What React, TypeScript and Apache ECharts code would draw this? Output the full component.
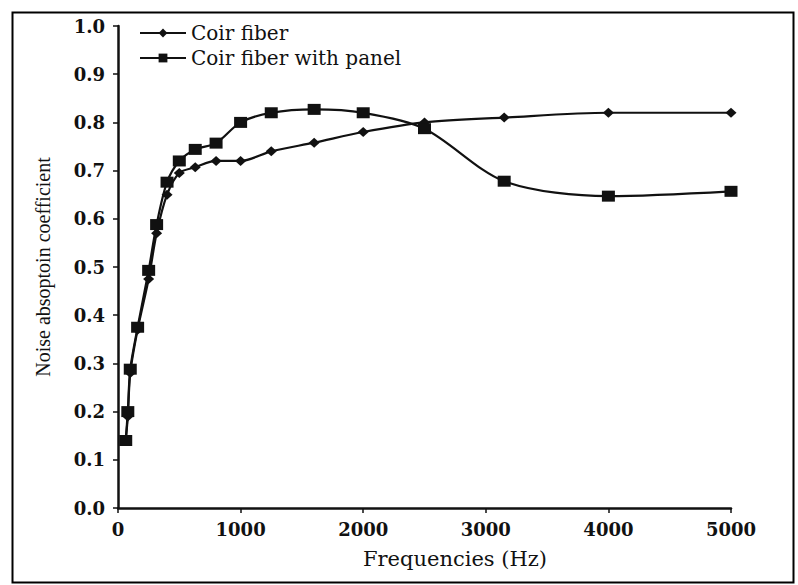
import React, { useEffect, useRef } from "react";
import * as echarts from "echarts";

const frequencies = [63, 80, 100, 160, 250, 315, 400, 500, 630, 800, 1000, 1250, 1600, 2000, 2500, 3150, 4000, 5000];
const coirFiber = [0.14, 0.19, 0.28, 0.37, 0.475, 0.57, 0.65, 0.695, 0.707, 0.72, 0.72, 0.74, 0.758, 0.78, 0.8, 0.81, 0.82, 0.82];
const coirFiberPanel = [0.14, 0.2, 0.288, 0.375, 0.493, 0.588, 0.676, 0.72, 0.744, 0.757, 0.8, 0.82, 0.827, 0.82, 0.787, 0.678, 0.647, 0.657];
const seriesNames = ["Coir fiber", "Coir fiber with panel"];
const xTitle = "Frequencies (Hz)";
const yTitle = "Noise absoptoin coefficient";

export default function App() {
  const ref = useRef<HTMLDivElement>(null);
  useEffect(() => {
    if (!ref.current) return;
    const chart = echarts.init(ref.current, null, { renderer: "svg" });
    const toPairs = (ys: number[]) => frequencies.map((f, i) => [f, ys[i]]);
    chart.setOption({
      animation: false,
      backgroundColor: "#ffffff",
      grid: { left: 118, right: 67, top: 26, bottom: 77 },
      legend: {
        orient: "vertical",
        left: 139,
        top: 23,
        padding: 0,
        itemGap: 5,
        itemWidth: 46,
        itemHeight: 11,
        textStyle: { fontFamily: "DejaVu Serif", fontSize: 20, color: "#111", lineHeight: 20 },
        data: seriesNames,
      },
      graphic: [
        {
          type: "rect",
          shape: { x: 12.5, y: 12.5, width: 781, height: 570 },
          style: { fill: "none", stroke: "#000", lineWidth: 2 },
          silent: true,
        },
        {
          type: "text",
          x: 455,
          y: 559,
          style: {
            text: xTitle,
            fontFamily: "DejaVu Serif",
            fontSize: 21,
            fill: "#111",
            align: "center",
            verticalAlign: "middle",
          },
          silent: true,
        },
      ],
      xAxis: {
        type: "value",
        min: 0,
        max: 5000,
        interval: 1000,
        axisLine: { lineStyle: { color: "#111", width: 2.5 } },
        axisTick: { show: true, length: 5, lineStyle: { color: "#111", width: 1.5 } },
        axisLabel: {
          margin: 12,
          fontFamily: "DejaVu Serif",
          fontWeight: "bold",
          fontSize: 18,
          color: "#111",
          formatter: (v: number) => String(v),
        },
        splitLine: { show: false },
      },
      yAxis: {
        type: "value",
        min: 0,
        max: 1,
        interval: 0.1,
        name: yTitle,
        nameLocation: "middle",
        nameGap: 65,
        nameRotate: 90,
        nameTextStyle: { fontFamily: "Liberation Serif", fontSize: 20, color: "#111" },
        axisLine: { show: true, lineStyle: { color: "#111", width: 2.5 } },
        axisTick: { show: true, length: 5, lineStyle: { color: "#111", width: 1.5 } },
        axisLabel: {
          margin: 13,
          fontFamily: "DejaVu Serif",
          fontWeight: "bold",
          fontSize: 18,
          color: "#111",
          formatter: (v: number) => v.toFixed(1),
        },
        splitLine: { show: false },
      },
      series: [
        {
          name: seriesNames[0],
          type: "line",
          data: toPairs(coirFiber),
          smooth: 0.3,
          symbol: "diamond",
          symbolSize: [11, 10],
          lineStyle: { color: "#111", width: 2.2 },
          itemStyle: { color: "#111" },
        },
        {
          name: seriesNames[1],
          type: "line",
          data: toPairs(coirFiberPanel),
          smooth: 0.3,
          symbol: "rect",
          symbolSize: [13, 11],
          lineStyle: { color: "#111", width: 2.2 },
          itemStyle: { color: "#111" },
        },
      ],
    });
    return () => chart.dispose();
  }, []);
  return <div ref={ref} style={{ position: "fixed", left: 0, top: 0, width: 798, height: 585 }} />;
}
